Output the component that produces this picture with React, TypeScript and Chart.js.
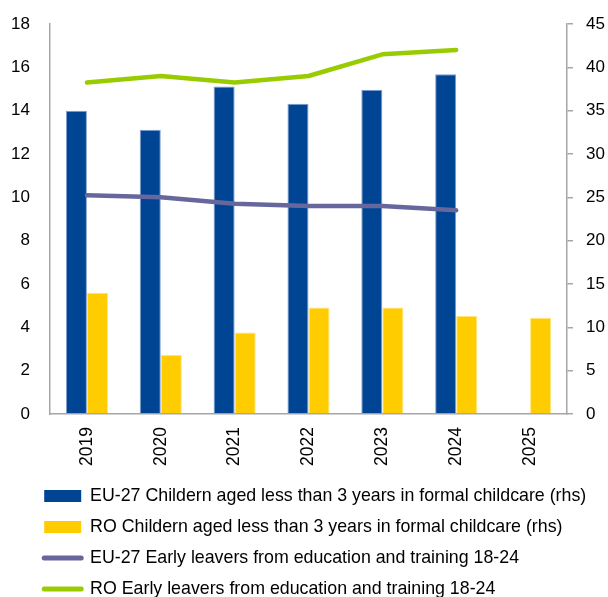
import React, { useEffect, useRef } from "react";
import { Chart, registerables } from "chart.js";

Chart.register(...registerables);

const years = ["2019", "2020", "2021", "2022", "2023", "2024", "2025"];

// Share of children under 3 in formal childcare (%), right-hand axis
const euChildcare = [35.0, 32.8, 37.8, 35.8, 37.4, 39.2, null];
const roChildcare = [14.0, 6.8, 9.4, 12.3, 12.3, 11.3, 11.1];

// Early leavers from education and training, aged 18-24 (%), left-hand axis
const euEarlyLeavers = [10.1, 10.0, 9.7, 9.6, 9.6, 9.4, null];
const roEarlyLeavers = [15.3, 15.6, 15.3, 15.6, 16.6, 16.8, null];

const leftTicks = { min: 0, max: 18, step: 2 };
const rightTicks = { min: 0, max: 45, step: 5 };

const seriesNames = [
  "EU-27 Childern aged less than 3 years in formal childcare (rhs)",
  "RO Childern aged less than 3 years in formal childcare (rhs)",
  "EU-27 Early leavers from education and training 18-24",
  "RO Early leavers from education and training 18-24",
];

const FONT = "'Liberation Sans', Arial, sans-serif";
const AXIS_GREY = "#a6a6a6";
const LEGEND_INDENT = 23;

// Indents the stacked legend rows without moving the plot area.
const legendIndent = {
  id: "legendIndent",
  beforeDraw(chart: any) {
    if (chart.legend) chart.legend.left = LEGEND_INDENT;
  },
};

// Keep tick padding from pushing the plot area down.
const noScalePadding = (s: any) => {
  s.paddingTop = 0;
  s.paddingBottom = 0;
};

export default function App() {
  const canvasRef = useRef<HTMLCanvasElement | null>(null);

  useEffect(() => {
    document.body.style.margin = "0";
    const canvas = canvasRef.current;
    if (!canvas) return;

    const chart = new Chart(canvas, {
      data: {
        labels: years,
        datasets: [
          {
            type: "bar",
            label: seriesNames[0],
            data: euChildcare,
            yAxisID: "y1",
            backgroundColor: "#004494",
            borderColor: "#7f9fd0",
            borderWidth: { left: 1, right: 1, top: 1, bottom: 0 },
            categoryPercentage: 0.57,
            barPercentage: 1,
            order: 2,
          },
          {
            type: "bar",
            label: seriesNames[1],
            data: roChildcare,
            yAxisID: "y1",
            backgroundColor: "#ffcc00",
            borderColor: "#ffe47a",
            borderWidth: { left: 1, right: 1, top: 1, bottom: 0 },
            categoryPercentage: 0.57,
            barPercentage: 1,
            order: 2,
          },
          {
            type: "line",
            label: seriesNames[2],
            data: euEarlyLeavers,
            yAxisID: "y",
            borderColor: "#67679e",
            backgroundColor: "#67679e",
            borderWidth: 4.5,
            borderCapStyle: "round",
            borderJoinStyle: "round",
            pointRadius: 0,
            tension: 0,
            order: 1,
          },
          {
            type: "line",
            label: seriesNames[3],
            data: roEarlyLeavers,
            yAxisID: "y",
            borderColor: "#99cc00",
            backgroundColor: "#99cc00",
            borderWidth: 4.5,
            borderCapStyle: "round",
            borderJoinStyle: "round",
            pointRadius: 0,
            tension: 0,
            order: 1,
          },
        ],
      } as any,
      options: {
        responsive: false,
        animation: false,
        layout: { padding: { left: 0, right: 0, top: 16, bottom: 0 } },
        plugins: {
          tooltip: { enabled: false },
          legend: {
            position: "bottom",
            align: "start",
            labels: {
              usePointStyle: true,
              pointStyleWidth: 37,
              boxWidth: 37,
              boxHeight: 12,
              padding: 13.2,
              color: "#000",
              font: { family: FONT, size: 17.8 },
              sort: (a: any, b: any) => a.datasetIndex - b.datasetIndex,
              generateLabels: (c: any) => {
                const items = (Chart.defaults.plugins.legend.labels as any).generateLabels(c);
                return items.map((it: any) => {
                  const ds = c.data.datasets[it.datasetIndex];
                  if (ds.type === "line") {
                    return {
                      ...it,
                      pointStyle: "line",
                      lineWidth: 5,
                      lineCap: "round",
                      strokeStyle: ds.borderColor,
                      fillStyle: ds.borderColor,
                    };
                  }
                  return {
                    ...it,
                    pointStyle: "rect",
                    lineWidth: 0,
                    fillStyle: ds.backgroundColor,
                    strokeStyle: ds.backgroundColor,
                  };
                });
              },
            },
          },
        },
        scales: {
          x: {
            offset: true,
            grid: { display: false, drawTicks: false },
            border: { display: true, color: AXIS_GREY, width: 1.5 },
            ticks: {
              maxRotation: 90,
              minRotation: 90,
              padding: 13,
              color: "#000",
              font: { family: FONT, size: 17.5 },
            },
            afterFit: (s: any) => {
              s.height = 60;
            },
          },
          y: {
            position: "left",
            min: leftTicks.min,
            max: leftTicks.max,
            grid: { display: false, drawTicks: false },
            border: { display: true, color: AXIS_GREY, width: 1.5 },
            ticks: {
              stepSize: leftTicks.step,
              padding: 20,
              color: "#000",
              font: { family: FONT, size: 17 },
            },
            afterFit: (s: any) => {
              s.width = 42;
              noScalePadding(s);
            },
          },
          y1: {
            position: "right",
            min: rightTicks.min,
            max: rightTicks.max,
            grid: {
              display: true,
              drawOnChartArea: false,
              drawTicks: true,
              tickLength: 6,
              color: AXIS_GREY,
              lineWidth: 1.5,
            },
            border: { display: true, color: AXIS_GREY, width: 1.5 },
            ticks: {
              stepSize: rightTicks.step,
              padding: 13,
              color: "#000",
              font: { family: FONT, size: 17 },
            },
            afterFit: (s: any) => {
              s.width = 41;
              noScalePadding(s);
            },
          },
        },
      } as any,
      plugins: [legendIndent],
    });

    return () => chart.destroy();
  }, []);

  return (
    <div
      style={{
        width: 600,
        height: 589,
        padding: "8px 0 0 8px",
        overflow: "hidden",
      }}
    >
      <canvas ref={canvasRef} width={600} height={600} style={{ display: "block" }} />
    </div>
  );
}
